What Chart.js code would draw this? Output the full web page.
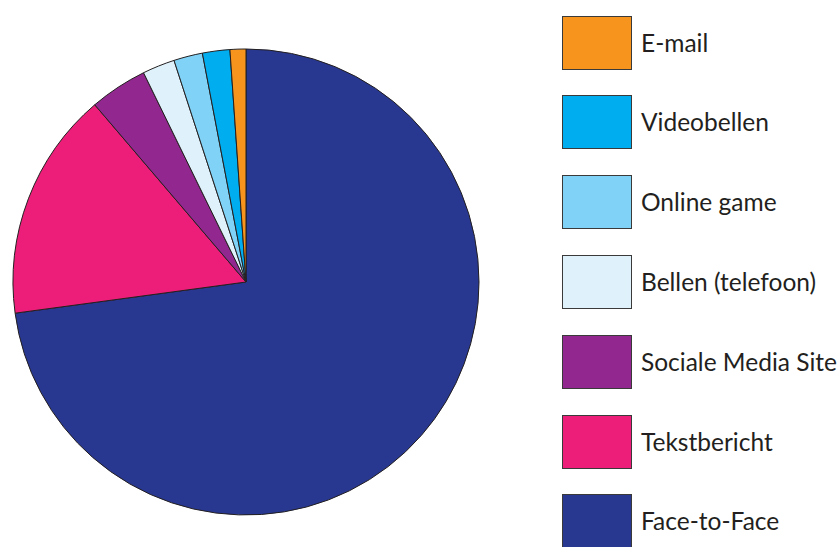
<!DOCTYPE html>
<html>
<head>
<meta charset="utf-8">
<script src="https://cdn.jsdelivr.net/npm/chart.js@4"></script>
<style>
	html, body { margin: 0; padding: 0; background: #fff; overflow: hidden; }
	body { width: 837px; height: 547px; position: relative; }
	#pieBox { position: absolute; left: 6px; top: 42px; width: 480px; height: 480px; }
	#legend { position: absolute; left: 562px; top: 0; }
	.item { position: absolute; left: 0; width: 300px; height: 53px; white-space: nowrap; }
	.swatch { position: absolute; left: 0; top: 0; width: 68px; height: 52px; border: 1px solid #3a3a3a; }
	.label { position: absolute; left: 79px; top: 0; line-height: 53px; font-family: Lato, sans-serif; font-size: 24.5px; color: #231f20; }
</style>
</head>
<body>
<div id="pieBox"><canvas id="pieChart"></canvas></div>
<div id="legend"></div>
<script>
const labels = ['Face-to-Face', 'Tekstbericht', 'Sociale Media Site', 'Bellen (telefoon)', 'Online game', 'Videobellen', 'E-mail'];
const shares = [72.9, 15.9, 4.0, 2.25, 2.0, 1.9, 1.1];
const colors = ['#283891', '#ed1e79', '#92278f', '#dff1fa', '#80d3f6', '#00aeef', '#f7941d'];

function buildLegend() {
	const legend = document.getElementById('legend');
	// legend is listed in reverse order of the slices
	const order = labels.map((_, i) => i).reverse();

	order.forEach((idx, row) => {
		const item = document.createElement('div');
		item.className = 'item';
		item.style.top = (15.5 + row * 79.8) + 'px';

		const swatch = document.createElement('div');
		swatch.className = 'swatch';
		swatch.style.background = colors[idx];

		const text = document.createElement('div');
		text.className = 'label';
		text.textContent = labels[idx];

		item.appendChild(swatch);
		item.appendChild(text);
		legend.appendChild(item);
	});
}

function renderChart() {
	const ctx = document.getElementById('pieChart').getContext('2d');

	new Chart(ctx, {
		type: 'pie',
		data: {
			labels: labels,
			datasets: [{
				data: shares,
				backgroundColor: colors,
				borderColor: '#231f20',
				borderWidth: 1,
			}],
		},
		options: {
			responsive: true,
			maintainAspectRatio: false,
			animation: false,
			radius: 233,
			layout: { padding: 0 },
			plugins: {
				legend: { display: false },
				tooltip: { enabled: false },
			},
		},
	});
}

buildLegend();
renderChart();
</script>
</body>
</html>
